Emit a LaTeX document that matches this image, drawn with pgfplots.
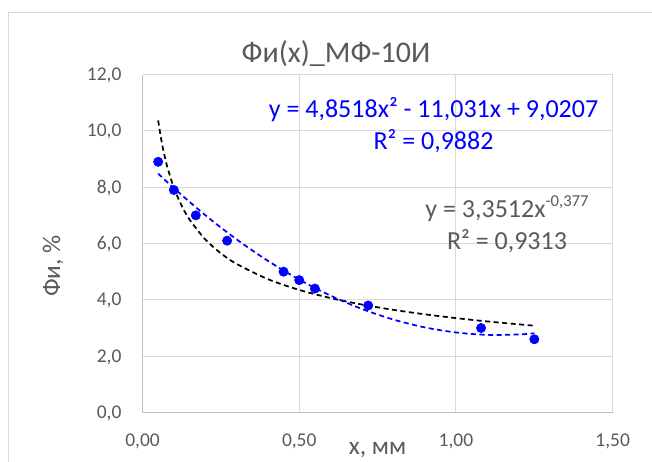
\documentclass[border=0pt]{standalone}
\usepackage{pgfplots}
\pgfplotsset{compat=1.18}
\usepackage{fontspec}
\setmainfont{Carlito}
\definecolor{txt}{HTML}{595959}
\definecolor{grd}{HTML}{D9D9D9}
\definecolor{axl}{HTML}{BFBFBF}
\definecolor{pblue}{HTML}{0000FF}
\begin{document}
\begin{tikzpicture}[x=0.75pt,y=0.75pt]
\useasboundingbox (0,0) rectangle (652,461);
\draw[grd, line width=0.9pt] (8.3,-5) -- (8.3,448.3) -- (660,448.3);
\begin{axis}[
  at={(106.875pt,36.375pt)}, anchor=south west, scale only axis,
  width=352.65pt, height=253.5pt,
  xmin=0, xmax=1.5, ymin=0, ymax=12,
  xtick={0,0.5,1,1.5}, ytick={0,2,4,6,8,10,12},
  major tick length=0pt,
  grid=major, grid style={grd, line width=0.75pt},
  axis x line*=bottom, axis y line*=left,
  axis line style={axl, line width=1pt, -},
  /pgf/number format/assume math mode=true,
  xticklabel style={/pgf/number format/.cd, fixed, fixed zerofill, precision=2, use comma, /tikz/.cd,
    font=\fontsize{14.6}{17}\selectfont, text=txt, anchor=base, inner sep=0pt, yshift=-25.65pt},
  yticklabel style={/pgf/number format/.cd, fixed, fixed zerofill, precision=1, use comma, /tikz/.cd,
    font=\fontsize{14.6}{17}\selectfont, text=txt, anchor=base east, inner sep=0pt, xshift=-15.6pt, yshift=-4.6pt},
]
\addplot[only marks, mark=*, mark size=3.5pt, color=pblue] coordinates {
  (0.05,8.9) (0.1,7.9) (0.17,7.0) (0.27,6.1) (0.45,5.0) (0.5,4.7) (0.55,4.4) (0.72,3.8) (1.08,3.0) (1.25,2.6)
};
\addplot[black, line width=1.3pt, dash pattern=on 3.8pt off 2.6pt, smooth] coordinates {
  (0.05,10.368) (0.06,9.679) (0.07,9.133) (0.08,8.684) (0.1,7.984) (0.125,7.340) (0.15,6.852) (0.2,6.148)
  (0.25,5.652) (0.3,5.277) (0.4,4.734) (0.5,4.352) (0.6,4.063) (0.7,3.833) (0.8,3.645) (0.9,3.487)
  (1.0,3.351) (1.1,3.233) (1.25,3.081)
};
\addplot[pblue, line width=1.3pt, dash pattern=on 3.8pt off 2.6pt, smooth] coordinates {
  (0.05,8.481) (0.1,7.966) (0.2,7.009) (0.3,6.148) (0.4,5.385) (0.5,4.718) (0.6,4.149) (0.7,3.676)
  (0.8,3.301) (0.9,3.023) (1.0,2.842) (1.1,2.757) (1.2,2.770) (1.25,2.813)
};
\end{axis}
\node[font=\fontsize{22.5}{27}\selectfont, text=txt, anchor=base, inner sep=0pt] at (336,398.3) {Фи(x)\_МФ-10И};
\node[font=\fontsize{19}{23}\selectfont, text=txt, rotate=90, anchor=center, inner sep=0pt] at (53,195) {Фи, \%};
\node[font=\fontsize{19}{23}\selectfont, text=txt, anchor=base, inner sep=0pt] at (377.6,6.5) {x, мм};
\node[font=\fontsize{19.5}{23}\selectfont, text=pblue, anchor=base, inner sep=0pt] at (433.5,343.7) {y = 4,8518x² - 11,031x + 9,0207};
\node[font=\fontsize{19.5}{23}\selectfont, text=pblue, anchor=base, inner sep=0pt] at (433.5,311.7) {R² = 0,9882};
\node[font=\fontsize{19.5}{23}\selectfont, text=txt, anchor=base, inner sep=0pt] at (507,243.7) {y = 3,3512x\raisebox{0.42em}{\fontsize{12.5}{14}\selectfont -0,377}};
\node[font=\fontsize{19.5}{23}\selectfont, text=txt, anchor=base, inner sep=0pt] at (507,211.7) {R² = 0,9313};
\end{tikzpicture}
\end{document}
